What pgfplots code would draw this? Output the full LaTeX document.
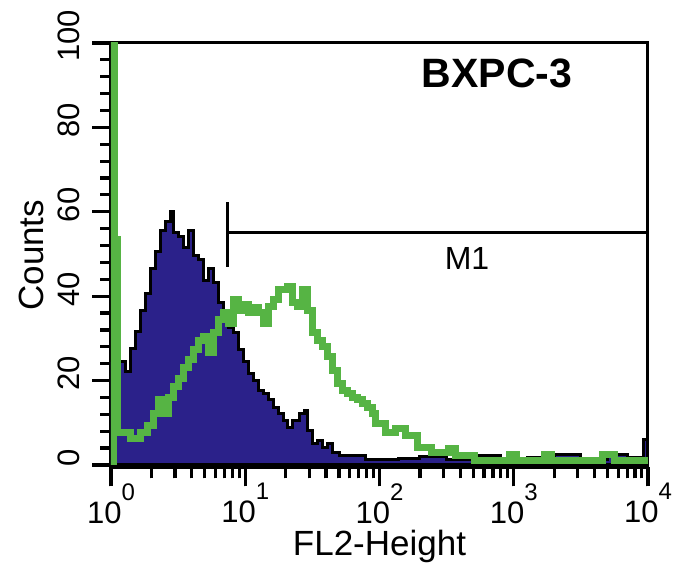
\documentclass[border=0pt]{standalone}
\usepackage{pgfplots}
\pgfplotsset{compat=1.18}
\usepackage{fontspec}
\setmainfont{Liberation Sans}
\definecolor{navyfill}{RGB}{43,33,138}
\definecolor{flgreen}{RGB}{86,180,68}
\newcommand{\tl}[1]{10\raisebox{11.5bp}{\fontsize{12bp}{12bp}\selectfont #1}}
\begin{document}
\begin{tikzpicture}
\begin{axis}[
  scale only axis, width=268.5bp, height=212.25bp,
  xmode=log, xmin=1, xmax=10000, ymin=-0.6, ymax=100,
  xtick={1,10,100,1000,10000},
  xticklabels={\tl{0},\tl{1},\tl{2},\tl{3},\tl{4}},
  minor xtick={2,3,4,5,6,7,8,9,20,30,40,50,60,70,80,90,200,300,400,500,600,700,800,900,2000,3000,4000,5000,6000,7000,8000,9000},
  ytick={0,20,40,60,80,100}, yticklabels={0,20,40,60,80,100},
  minor ytick={4,8,12,16,24,28,32,36,44,48,52,56,64,68,72,76,84,88,92,96},
  xtick pos=left, ytick pos=left,
  tick align=outside,
  major tick length=9.5bp, minor tick length=5.5bp,
  axis line style={line width=1.5bp},
  tick style={black, line width=1.6bp},
  tick label style={font=\fontsize{15.5bp}{18bp}\selectfont},
  yticklabel style={xshift=-6bp, yshift=3.5bp, rotate=90, anchor=south, inner sep=0pt},
  xticklabel style={yshift=1.75bp, anchor=north, inner sep=0pt},
  xlabel={FL2-Height}, ylabel={Counts},
  label style={font=\fontsize{17.5bp}{20bp}\selectfont, inner sep=0pt},
  xlabel style={at={(axis description cs:0.5,-0.2085)}, anchor=base},
  ylabel style={at={(axis description cs:-0.1266,0.5)}, anchor=base},
  clip=true,
]
% unstained control (filled)
\addplot[const plot, fill=navyfill, draw=black, line width=1.5bp] coordinates {
(1.0,24.4) (1.291,22.1) (1.406,27.6) (1.531,31.6) (1.667,36.6) (1.816,40.6)
(1.977,46.6) (2.153,50.6) (2.344,55.6) (2.553,57.6) (2.780,60.1) (2.938,55.1)
(3.199,54.1) (3.483,51.6) (3.793,55.6) (4.130,49.6) (4.498,48.6) (4.898,43.6)
(5.333,46.6) (5.808,43.2) (6.324,38.6) (6.887,34.6) (7.499,32.6) (8.166,31.3)
(8.892,27.3) (9.683,24.6) (10.54,21.6) (11.48,20.1) (12.50,17.6) (13.61,17.0)
(14.83,15.4) (16.14,13.6) (17.58,12.2) (19.14,10.6) (20.80,8.9) (22.65,10.6)
(25.41,12.2) (27.67,13.0) (29.24,8.2) (31.84,5.1) (34.67,5.8) (37.76,4.2)
(41.11,5.1) (44.77,3.0) (50.23,2.3) (79.07,1.4) (139.3,1.6) (199.5,2.0)
(316.2,1.2) (501.2,2.2) (794.3,1.2) (1259,1.8) (1995,2.4) (3162,1.4)
(5012,2.5) (7079,1.8) (9333,6.0) (10000,6.0)
} \closedcycle;
% stained sample (green line)
\addplot[const plot, draw=flgreen, line width=3.5bp] coordinates {
(1.035,0) (1.035,110) (1.07,53.5) (1.127,7.6) (1.406,6.3) (1.667,7.6) (1.866,9.4)
(2.089,12.2) (2.275,15.4) (2.477,12.2) (2.698,16.1) (2.938,18.5) (3.199,20.6)
(3.483,23.2) (3.793,24.9) (4.130,27.3) (4.498,29.6) (4.898,30.4) (5.333,26.6)
(5.808,31.3) (6.324,34.4) (6.887,36.1) (7.499,33.6) (8.166,39.2) (8.892,36.6)
(9.683,38.0) (10.54,36.1) (11.48,37.3) (12.50,36.1) (13.61,33.6) (14.83,37.6)
(16.14,39.2) (17.58,41.6) (19.14,41.6) (20.80,42.3) (22.65,38.5) (24.66,37.6)
(26.85,41.6) (29.24,36.6) (31.84,31.3) (34.67,29.6) (37.76,28.0) (41.11,25.6)
(44.77,22.5) (48.75,19.4) (53.09,17.6) (57.81,17.0) (62.95,16.1) (68.55,15.4)
(74.64,14.6) (81.28,13.6) (88.51,12.2) (93.76,9.9) (111.2,7.6) (131.8,8.6)
(156.3,7.0) (190.5,4.2) (245.5,3.0) (326.6,3.9) (365.6,2.3) (514.0,1.1)
(933,2.5) (1047,1.0) (1698,2.5) (1905,1.0) (4571,2.5) (5623,1.0) (10000,1.0)
};
% M1 marker
\addplot[black, line width=1.5bp] coordinates {(7.44,62.3) (7.44,46.9)};
\addplot[black, line width=1.5bp] coordinates {(7.44,55.0) (10000,55.0)};
\node[font=\fontsize{16bp}{18bp}\selectfont] at (axis cs:449,49) {M1};
\node[font=\fontsize{20.5bp}{24bp}\selectfont\bfseries] at (axis cs:750,92.7) {BXPC-3};
\end{axis}
% overlay axis drawing only the outward x ticks
\begin{axis}[
  scale only axis, width=268.5bp, height=212.25bp,
  xmode=log, xmin=1, xmax=10000, ymin=-0.6, ymax=100,
  xtick={1,10,100,1000,10000}, xticklabels={},
  minor xtick={2,3,4,5,6,7,8,9,20,30,40,50,60,70,80,90,200,300,400,500,600,700,800,900,2000,3000,4000,5000,6000,7000,8000,9000},
  ytick=\empty,
  tick align=outside, xtick pos=left,
  major tick length=9.5bp, minor tick length=5.5bp,
  axis line style={draw=none},
  tick style={black, line width=1.6bp},
]
\end{axis}
\path ([shift={(-55.5bp,-52.25bp)}]current axis.south west) rectangle ([shift={(15bp,21.5bp)}]current axis.north east);
\end{tikzpicture}
\end{document}
